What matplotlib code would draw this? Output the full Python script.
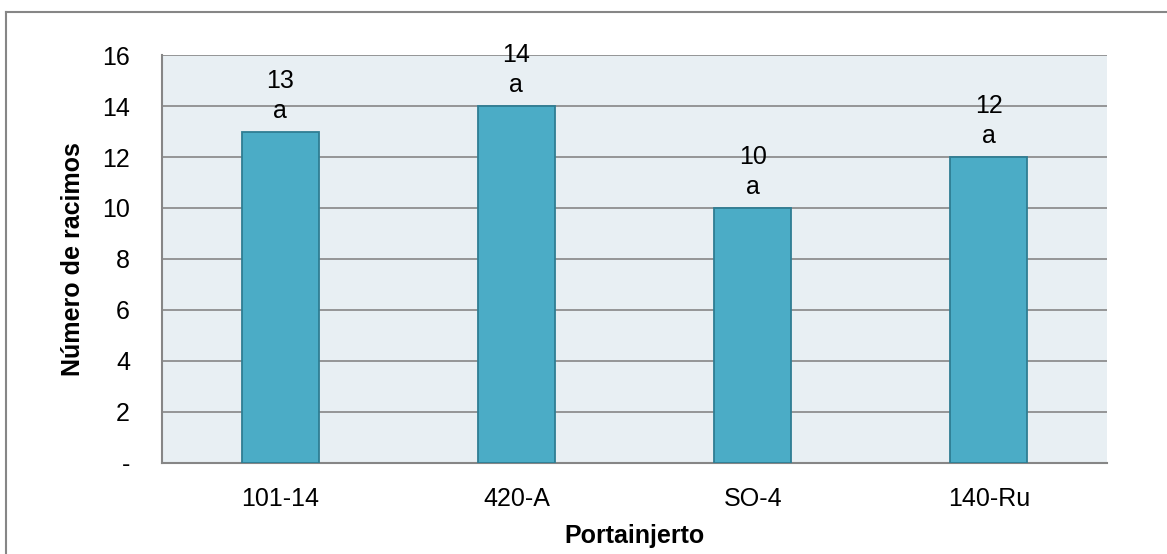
import matplotlib.pyplot as plt
from matplotlib.lines import Line2D

plt.rcParams['font.family'] = ['Liberation Sans', 'DejaVu Sans']

portainjertos = ['101-14', '420-A', 'SO-4', '140-Ru']
racimos = [13, 14, 10, 12]
letras = ['a', 'a', 'a', 'a']
yticks = [0, 2, 4, 6, 8, 10, 12, 14, 16]
ytick_labels = ['-', '2', '4', '6', '8', '10', '12', '14', '16']

fig = plt.figure(figsize=(11.67, 5.54), dpi=100)
ax1 = fig.add_axes([0.1388, 0.1643, 0.8098, 0.7364])
ax1.set_facecolor('#E8EFF3')

x = range(len(portainjertos))
ax1.bar(x, racimos, width=0.325, color='#4BACC6', edgecolor='#2F7D93', linewidth=1.3, zorder=3)

# value and significance letter above each bar
for i in x:
    ax1.annotate(letras[i], (i, racimos[i]), xytext=(0, 14), textcoords='offset pixels',
                 ha='center', va='baseline', fontsize=18, zorder=4)
    ax1.annotate(str(racimos[i]), (i, racimos[i]), xytext=(0, 44), textcoords='offset pixels',
                 ha='center', va='baseline', fontsize=18, zorder=4)

ax1.set_xlim(-0.5, 3.5)
ax1.set_ylim(0, 16)
ax1.set_yticks(yticks)
ax1.set_yticklabels(ytick_labels)
ax1.set_xticks(list(x))
ax1.set_xticklabels(portainjertos)
ax1.yaxis.grid(True, color='#868686', linewidth=1.2, zorder=0)
ax1.set_axisbelow(True)
ax1.tick_params(axis='both', length=0, labelsize=18)
ax1.tick_params(axis='y', pad=23)
ax1.tick_params(axis='x', pad=17)

for s in ['top', 'right']:
    ax1.spines[s].set_visible(False)
for s in ['left', 'bottom']:
    ax1.spines[s].set_color('#868686')
    ax1.spines[s].set_linewidth(1.5)

ax1.set_xlabel('Portainjerto', fontsize=18, fontweight='bold', labelpad=10)
ax1.set_ylabel('Número de racimos', fontsize=18, fontweight='bold', labelpad=12)

# chart frame, cut off at the right and bottom
fig.add_artist(Line2D([6/1167, 6/1167], [0, 1 - 12/554], color='#868686', linewidth=1.5))
fig.add_artist(Line2D([6/1167, 1], [1 - 12/554, 1 - 12/554], color='#868686', linewidth=1.5))

fig.savefig('out.png', dpi=100)
